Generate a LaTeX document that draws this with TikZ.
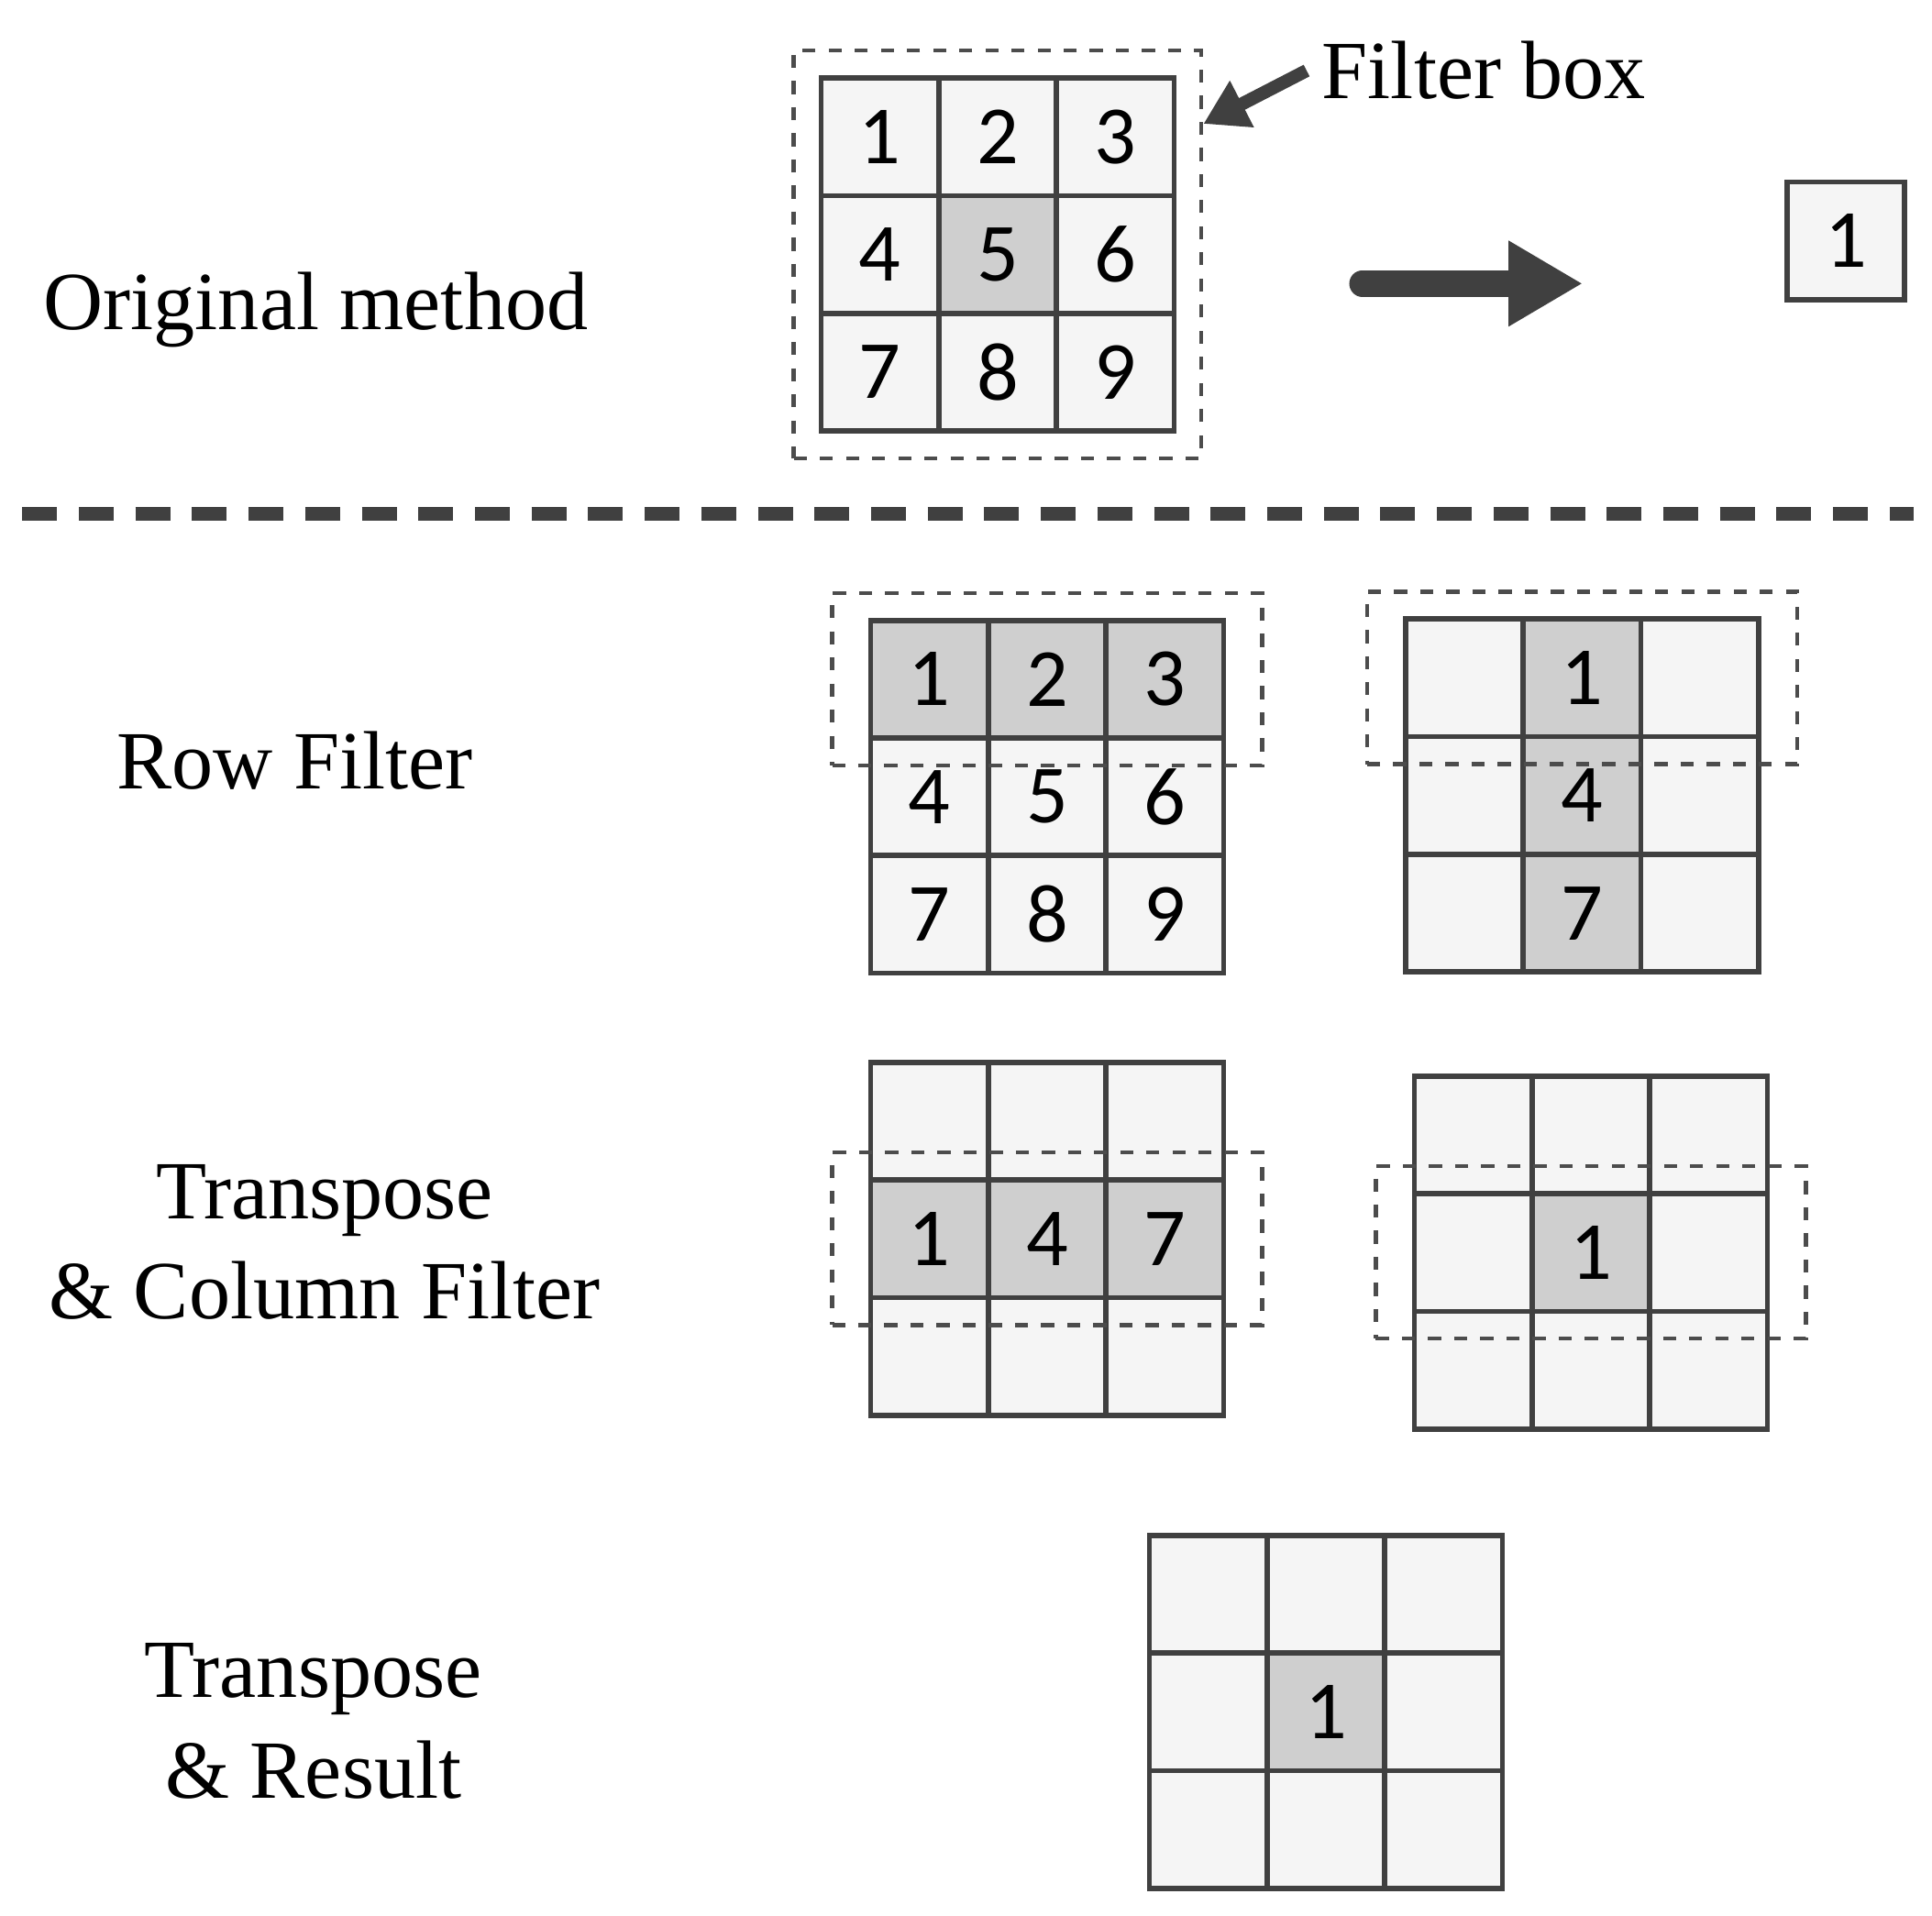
\documentclass[tikz,border=0pt]{standalone}
\usepackage{fontspec}
\setmainfont{Liberation Serif}
\newfontfamily\digits{Carlito}
\usetikzlibrary{fit,arrows.meta}
\tikzset{
  cell/.style={draw=black!75,line width=1.2pt,minimum size=0.95cm,inner sep=0pt,font=\digits\fontsize{19}{19}\selectfont},
  cellw/.style={cell,fill=black!4},
  cellg/.style={cell,fill=black!19},
  fbox/.style={draw=black!70,dashed,line width=0.9pt,inner ysep=0.2cm,inner xsep=0.29cm},
  lbl/.style={font=\fontsize{19}{23}\selectfont,align=center}
}
% name, left, top, cells (text/style)
\newcommand{\grid}[4]{%
  \foreach \t/\f [count=\i from 0] in {#4} {
    \pgfmathtruncatemacro\r{floor(\i/3)}
    \pgfmathtruncatemacro\c{mod(\i,3)}
    \node (#1-\i) at ({#2+0.475+0.95*\c},{#3-0.475-0.95*\r}) [cell\f] {\t};
  }}
\begin{document}
\begin{tikzpicture}
  \useasboundingbox (0,0) rectangle (15.6,-15.47);

  % original method
  \node[lbl] (orig) at (2.55,-2.5) {Original method};
  \grid{o}{6.63}{-0.63}{1/w,2/w,3/w,4/w,5/g,6/w,7/w,8/w,9/w}
  \node (obox) [fbox,inner sep=0.2cm,fit=(o-0)(o-8)] {};
  \node[lbl,anchor=west] (flbl) at (10.55,-0.57) {Filter box};
  \draw[-{Triangle[length=0.35cm,width=0.4cm]},line width=3pt,black!75]
    (flbl.west) -- (obox.north east|-0,-1.0);
  \coordinate (as) at (11.0,-2.29);
  \coordinate (ae) at (12.78,-2.29);
  \draw[-{Triangle[length=0.6cm,width=0.65cm]},line width=6pt,black!75,line cap=round]
    (as) -- (ae);
  \node[cellw] (res) at (14.905,-1.945) {1};

  \coordinate (sl) at (0.18,-4.15);
  \coordinate (sr) at (15.45,-4.15);
  \draw[black!75,line width=3pt,dash pattern=on 8pt off 5pt] (sl) -- (sr);

  % row filter
  \node[lbl] (row) at (2.38,-6.14) {Row Filter};
  \grid{ra}{7.03}{-5.01}{1/g,2/g,3/g,4/w,5/w,6/w,7/w,8/w,9/w}
  \node[fbox,fit=(ra-0)(ra-2)] {};
  \grid{rb}{11.35}{-5.0}{{}/w,1/g,{}/w,{}/w,4/g,{}/w,{}/w,7/g,{}/w}
  \node[fbox,fit=(rb-0)(rb-2)] {};

  % transpose & column filter
  \node[lbl] (col) at (2.62,-10.03) {Transpose\\\& Column Filter};
  \grid{ca}{7.03}{-8.58}{{}/w,{}/w,{}/w,1/g,4/g,7/g,{}/w,{}/w,{}/w}
  \node[fbox,fit=(ca-3)(ca-5)] {};
  \grid{cb}{11.42}{-8.69}{{}/w,{}/w,{}/w,{}/w,1/g,{}/w,{}/w,{}/w,{}/w}
  \node[fbox,fit=(cb-3)(cb-5)] {};

  % transpose & result
  \node[lbl] (fin) at (2.53,-13.9) {Transpose\\\& Result};
  \grid{t}{9.28}{-12.4}{{}/w,{}/w,{}/w,{}/w,1/g,{}/w,{}/w,{}/w,{}/w}
\end{tikzpicture}
\end{document}
